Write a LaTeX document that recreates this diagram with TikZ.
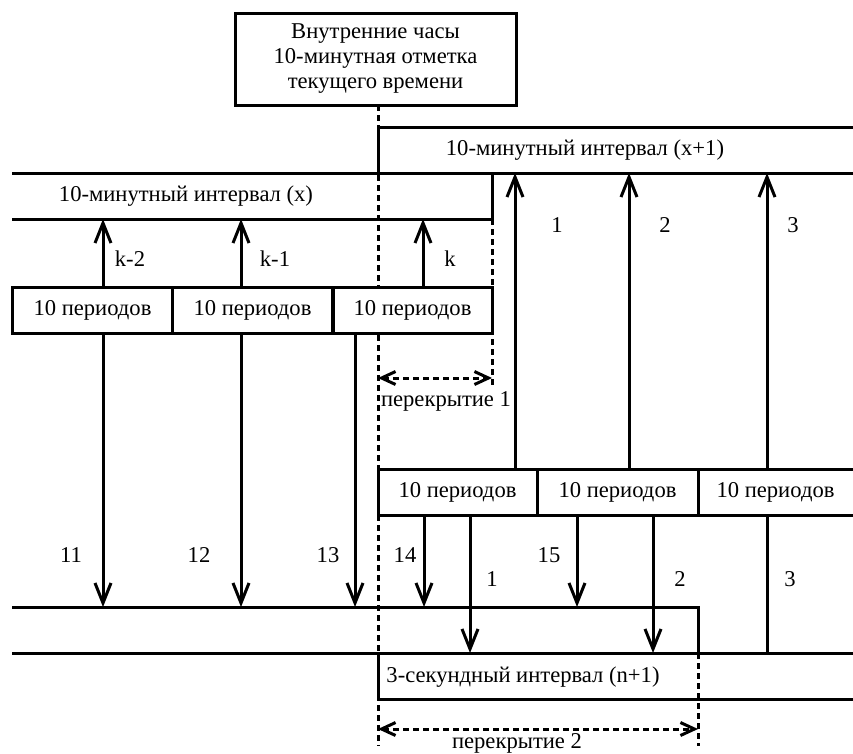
\documentclass[tikz,border=0pt]{standalone}
\usepackage{fontspec}
\setmainfont{Liberation Serif}
\usetikzlibrary{arrows.meta}
\begin{document}
\begin{tikzpicture}[x=1pt,y=-1pt,
  ln/.style={line width=3pt},
  dsh/.style={line width=3pt, dash pattern=on 6pt off 4pt},
  arr/.style={ln, -{Straight Barb[length=20pt,width=16pt]}},
  darr/.style={dsh, {Straight Barb[length=14pt,width=13pt]}-{Straight Barb[length=14pt,width=13pt]}},
  txt/.style={font=\fontsize{22.6}{25}\selectfont, inner sep=0pt},
  box/.style={txt, draw, fill=white, ln, rectangle, minimum height=46pt}]
\useasboundingbox (0,0) rectangle (853,753);
% named coordinates
\coordinate (ctop) at (378,105);
\coordinate (cbot) at (378,746);
\coordinate (X1tl) at (378,127);
\coordinate (X1tr) at (853,127);
\coordinate (Lal) at (12,173);
\coordinate (Lar) at (853,173);
\coordinate (X1bl) at (378,173);
\coordinate (Xtr) at (492,173);
\coordinate (Xbl) at (12,219);
\coordinate (Xbr) at (492,219);
\coordinate (O1e) at (492,387);
\coordinate (S1l) at (12,607);
\coordinate (S1r) at (698,607);
\coordinate (S1b) at (698,653);
\coordinate (S2l) at (12,653);
\coordinate (S2r) at (853,653);
\coordinate (S3tl) at (378,653);
\coordinate (S3bl) at (378,699);
\coordinate (S3br) at (853,699);
\coordinate (O2e) at (698,746);
\coordinate (O1a) at (378,378);
\coordinate (O1b) at (492,378);
\coordinate (O2a) at (378,729);
\coordinate (O2b) at (698,729);
% dashed guide lines
\draw[dsh] (ctop) -- (cbot);
\draw[dsh] (Xbr) -- (O1e);
\draw[dsh] (S1b) -- (O2e);
% clock
\node[box, align=center, minimum width=281pt, minimum height=92pt] (clock) at (375.5,59)
  {Внутренние часы\\10-минутная отметка\\текущего времени};
% 10-minute intervals
\draw[ln] (X1bl) -- (X1tl) -- (X1tr);
\draw[ln] (Lal) -- (Lar);
\draw[ln] (Xbl) -- (Xbr) -- (Xtr);
\node[txt] (tx1) at (585,150) {10-минутный интервал (x+1)};
\node[txt] (tx) at (186,196) {10-минутный интервал (x)};
% left boxes
\node[box, minimum width=161pt] (p1) at (92.5,310) {10 периодов};
\node[box, minimum width=160pt] (p2) at (252.5,310) {10 периодов};
\node[box, minimum width=159pt] (p3) at (412.5,310) {10 периодов};
% right boxes
\node[box, minimum width=159pt] (q1) at (457.5,492.5) {10 периодов};
\node[box, minimum width=161pt] (q2) at (617.5,492.5) {10 периодов};
\node[txt, minimum height=46pt, minimum width=155pt] (q3) at (775.5,492.5) {10 периодов};
\draw[ln] (q3.north west) -- (q3.north east);
\draw[ln] (q3.south west) -- (q3.south east);
% up arrows to interval x
\coordinate (u1) at (103,219);
\coordinate (u2) at (241,219);
\coordinate (u3) at (423,219);
\draw[arr] (p1.north -| u1) -- (u1);
\draw[arr] (p2.north -| u2) -- (u2);
\draw[arr] (p3.north -| u3) -- (u3);
\node[txt] (lk2) at (130,259) {k-2};
\node[txt] (lk1) at (275,259) {k-1};
\node[txt] (lk) at (450,259) {k};
% up arrows to interval x+1
\coordinate (v1) at (515,173);
\coordinate (v2) at (629,173);
\coordinate (v3) at (767,173);
\draw[arr] (q1.north -| v1) -- (v1);
\draw[arr] (q2.north -| v2) -- (v2);
\draw[arr] (q3.north -| v3) -- (v3);
\node[txt] (l1u) at (557,225) {1};
\node[txt] (l2u) at (665,225) {2};
\node[txt] (l3u) at (793,225) {3};
% overlap 1
\draw[darr] (O1a) -- (O1b);
\node[txt] (ov1) at (446,401) {перекрытие 1};
% 3-second intervals
\draw[ln] (S1l) -- (S1r) -- (S1b);
\draw[ln] (S2l) -- (S2r);
\draw[ln] (S3tl) -- (S3bl) -- (S3br);
\node[txt] (s3t) at (523,677) {3-секундный интервал (n+1)};
% down arrows from left boxes
\coordinate (d1) at (103,607);
\coordinate (d2) at (241,607);
\coordinate (d3) at (355,607);
\draw[arr] (p1.south -| d1) -- (d1);
\draw[arr] (p2.south -| d2) -- (d2);
\draw[arr] (p3.south -| d3) -- (d3);
\node[txt] (l11) at (71,555) {11};
\node[txt] (l12) at (199,555) {12};
\node[txt] (l13) at (328,555) {13};
% down arrows from right boxes
\coordinate (e1) at (424,607);
\coordinate (e2) at (470,653);
\coordinate (e3) at (577,607);
\coordinate (e4) at (653,653);
\coordinate (e5) at (767,653);
\draw[arr] (q1.south -| e1) -- (e1);
\draw[arr] (q1.south -| e2) -- (e2);
\draw[arr] (q2.south -| e3) -- (e3);
\draw[arr] (q2.south -| e4) -- (e4);
\draw[ln] (q3.south -| e5) -- (e5);
\node[txt] (l14) at (405,555) {14};
\node[txt] (l1d) at (492,579) {1};
\node[txt] (l15) at (549,555) {15};
\node[txt] (l2d) at (680,579) {2};
\node[txt] (l3d) at (790,579) {3};
% overlap 2
\draw[darr] (O2a) -- (O2b);
\node[txt] (ov2) at (517,743) {перекрытие 2};
\end{tikzpicture}
\end{document}
